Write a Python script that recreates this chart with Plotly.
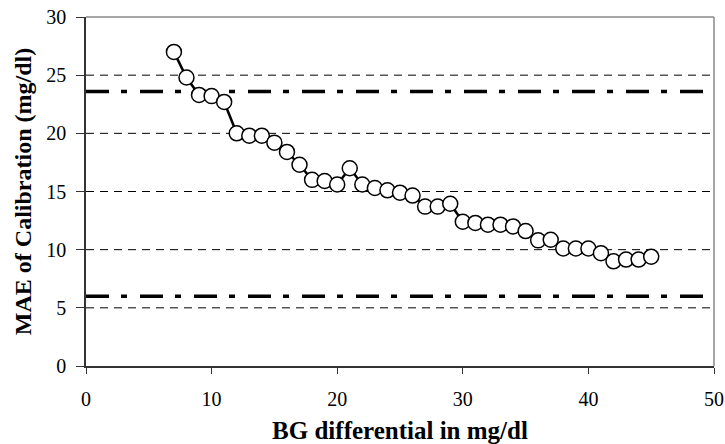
import plotly.graph_objects as go

bg_diff = list(range(7, 46))
mae = [27.0, 24.8, 23.3, 23.2, 22.7, 20.0, 19.8, 19.8, 19.2, 18.4,
       17.3, 16.0, 15.9, 15.6, 17.0, 15.6, 15.3, 15.1, 14.9, 14.65,
       13.7, 13.7, 13.95, 12.4, 12.3, 12.15, 12.15, 12.0, 11.6, 10.8,
       10.85, 10.1, 10.1, 10.1, 9.7, 9.0, 9.15, 9.15, 9.4]
upper_limit = 23.6
lower_limit = 6.0
x_ticks = [0, 10, 20, 30, 40, 50]
y_ticks = [0, 5, 10, 15, 20, 25, 30]

fig = go.Figure()

for yv in [5, 10, 15, 20, 25]:
    fig.add_shape(type="line", xref="x", yref="y", x0=0, x1=50, y0=yv, y1=yv,
                  line=dict(color="black", width=1, dash="8px,6px"), layer="below")

for yv in [upper_limit, lower_limit]:
    fig.add_shape(type="line", xref="x", yref="y", x0=0, x1=50, y0=yv, y1=yv,
                  line=dict(color="black", width=3.5, dash="23px,12px,6px,13px"), layer="below")

fig.add_trace(go.Scatter(
    x=bg_diff, y=mae, mode="lines+markers",
    line=dict(color="black", width=2.5),
    marker=dict(symbol="circle", size=15, color="white", line=dict(color="black", width=1.5)),
    showlegend=False,
))

# top and right border (gray)
fig.add_shape(type="line", xref="paper", yref="paper", x0=0, x1=1, y0=1, y1=1,
              line=dict(color="#888888", width=1.5))
fig.add_shape(type="line", xref="paper", yref="paper", x0=1, x1=1, y0=0, y1=1,
              line=dict(color="#888888", width=1.5))

font_family = "Liberation Serif"

fig.update_layout(
    width=725, height=444,
    margin=dict(l=86, r=11, t=17, b=78),
    paper_bgcolor="white", plot_bgcolor="white",
    font=dict(family=font_family, color="black", size=20),
    xaxis=dict(
        range=[0, 50], tickvals=x_ticks, showgrid=False, zeroline=False,
        showline=True, linecolor="#333333", linewidth=1.5,
        ticks="outside", ticklen=6, tickcolor="#333333",
        ticklabelstandoff=8, automargin=False,
        tickfont=dict(size=20, family=font_family),
        title=dict(text="<b>BG differential in mg/dl</b>", font=dict(size=25, family=font_family), standoff=13),
    ),
    yaxis=dict(
        range=[0, 30], tickvals=y_ticks, showgrid=False, zeroline=False,
        showline=True, linecolor="#333333", linewidth=1.5,
        ticks="outside", ticklen=8, tickcolor="#333333",
        ticklabelstandoff=6, automargin=False,
        tickfont=dict(size=20, family=font_family),
        title=dict(text="<b>MAE of Calibration (mg/dl)</b>", font=dict(size=24, family=font_family), standoff=8),
    ),
)

fig.write_html("out.html", config={"displayModeBar": False},
               post_script="document.body.style.margin='0';")
